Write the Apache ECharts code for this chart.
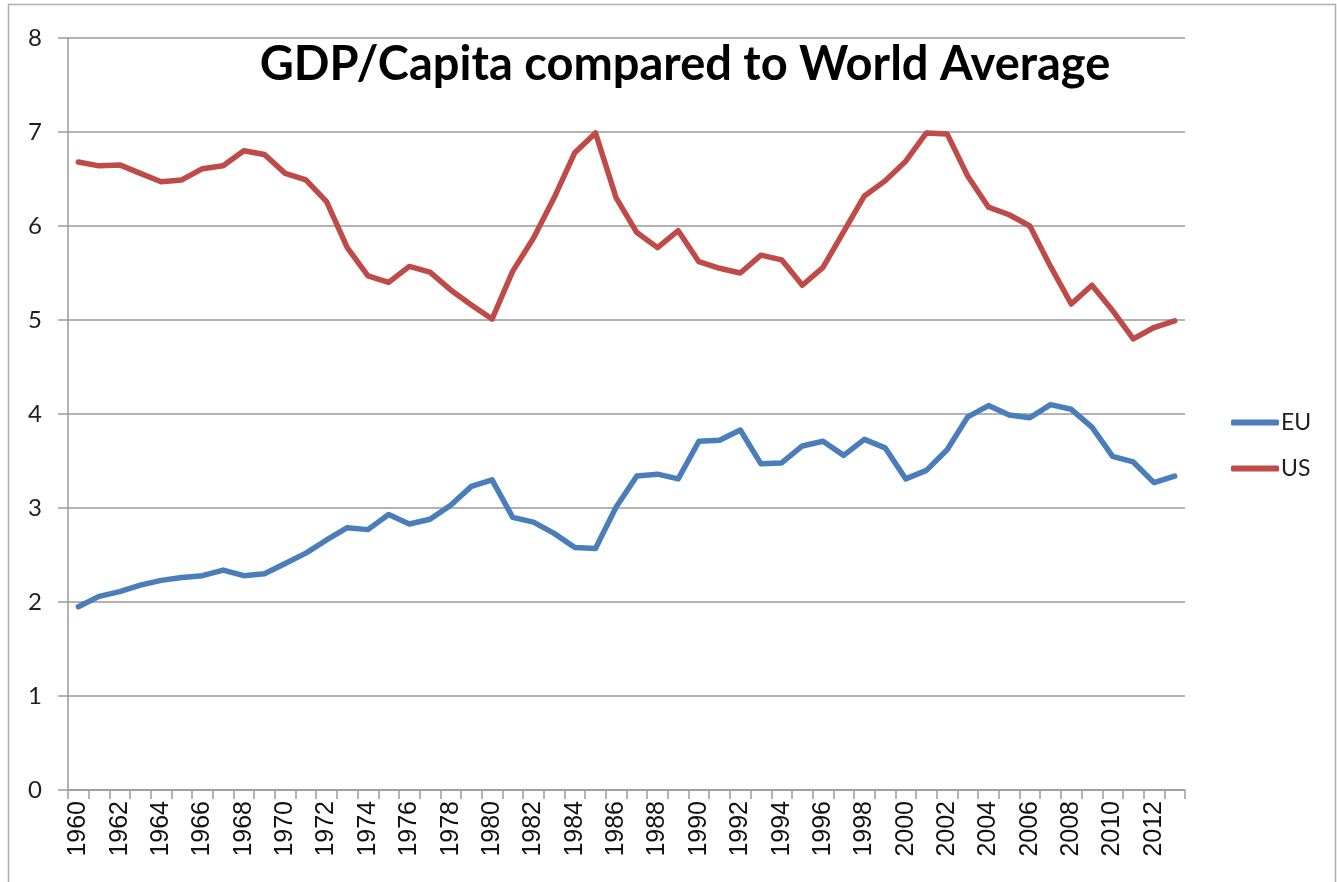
<!DOCTYPE html>
<html>
<head>
<meta charset="utf-8">
<script src="https://cdn.jsdelivr.net/npm/echarts@6/dist/echarts.min.js"></script>
<style>
html,body{margin:0;padding:0;background:#fff;}
#chart{width:1337px;height:882px;}
</style>
</head>
<body>
<div id="chart"></div>
<script>
var years = [];
for (var y = 1960; y <= 2013; y++) years.push(String(y));

var euValues = [
  1.95, 2.06, 2.11, 2.18, 2.23, 2.26, 2.28, 2.34, 2.28, 2.30,
  2.41, 2.52, 2.66, 2.79, 2.77, 2.93, 2.83, 2.88, 3.03, 3.23,
  3.30, 2.90, 2.85, 2.73, 2.58, 2.57, 3.01, 3.34, 3.36, 3.31,
  3.71, 3.72, 3.83, 3.47, 3.48, 3.66, 3.71, 3.56, 3.73, 3.64,
  3.31, 3.40, 3.62, 3.97, 4.09, 3.99, 3.96, 4.10, 4.05, 3.86,
  3.55, 3.49, 3.27, 3.34
];
var usValues = [
  6.68, 6.64, 6.65, 6.56, 6.47, 6.49, 6.61, 6.64, 6.80, 6.76,
  6.56, 6.49, 6.26, 5.77, 5.47, 5.40, 5.57, 5.51, 5.32, 5.16,
  5.01, 5.52, 5.87, 6.30, 6.78, 6.99, 6.30, 5.93, 5.77, 5.95,
  5.62, 5.55, 5.50, 5.69, 5.64, 5.37, 5.56, 5.94, 6.32, 6.48,
  6.69, 6.99, 6.98, 6.53, 6.20, 6.12, 6.00, 5.57, 5.17, 5.37,
  5.10, 4.80, 4.92, 4.99
];
var seriesNames = ['EU', 'US'];
var titleText = 'GDP/Capita compared to World Average';

var chart = echarts.init(document.getElementById('chart'));
var gridColor = '#9a9a9a';
chart.setOption({
  backgroundColor: '#fff',
  animation: false,
  title: {
    text: titleText,
    left: 680, textAlign: 'center', top: 36,
    textStyle: { fontFamily: 'Lato', fontWeight: 'bold', fontSize: 47, color: '#000' }
  },
  legend: {
    orient: 'vertical',
    left: 1226, top: 406,
    itemWidth: 48, itemHeight: 6, itemGap: 23,
    icon: 'roundRect',
    data: seriesNames,
    textStyle: { fontFamily: 'Lato', fontSize: 23, color: '#1f1f1f', padding: [0,0,0,-3] }
  },
  grid: { left: 68, right: 152, top: 38, bottom: 92, containLabel: false },
  graphic: [{
    type: 'rect', silent: true,
    shape: { x: 8.5, y: 4.5, width: 1327, height: 900 },
    style: { fill: 'none', stroke: '#b0b0b0', lineWidth: 1.5 }
  }],
  xAxis: {
    type: 'category',
    data: years,
    boundaryGap: true,
    axisLine: { show: true, lineStyle: { color: gridColor, width: 1.5 } },
    axisTick: { show: true, interval: 0, length: 9, lineStyle: { color: gridColor, width: 1.5 } },
    axisLabel: {
      interval: 1, rotate: 90, margin: 11,
      fontFamily: 'Liberation Sans', fontSize: 25, color: '#111'
    },
    splitLine: { show: false }
  },
  yAxis: {
    type: 'value', min: 0, max: 8, interval: 1,
    axisLine: { show: true, lineStyle: { color: gridColor, width: 1.5 } },
    axisTick: { show: true, length: 10, lineStyle: { color: gridColor, width: 1.5 } },
    axisLabel: { margin: 26, fontFamily: 'Lato', fontSize: 24, color: '#1f1f1f' },
    splitLine: { show: true, lineStyle: { color: gridColor, width: 1.5 } }
  },
  series: [
    {
      name: seriesNames[0], type: 'line', data: euValues,
      symbol: 'none', color: '#4A7EBB',
      lineStyle: { width: 5.5, cap: 'round', join: 'round' }
    },
    {
      name: seriesNames[1], type: 'line', data: usValues,
      symbol: 'none', color: '#BE4B48',
      lineStyle: { width: 5.5, cap: 'round', join: 'round' }
    }
  ]
});
</script>
</body>
</html>
